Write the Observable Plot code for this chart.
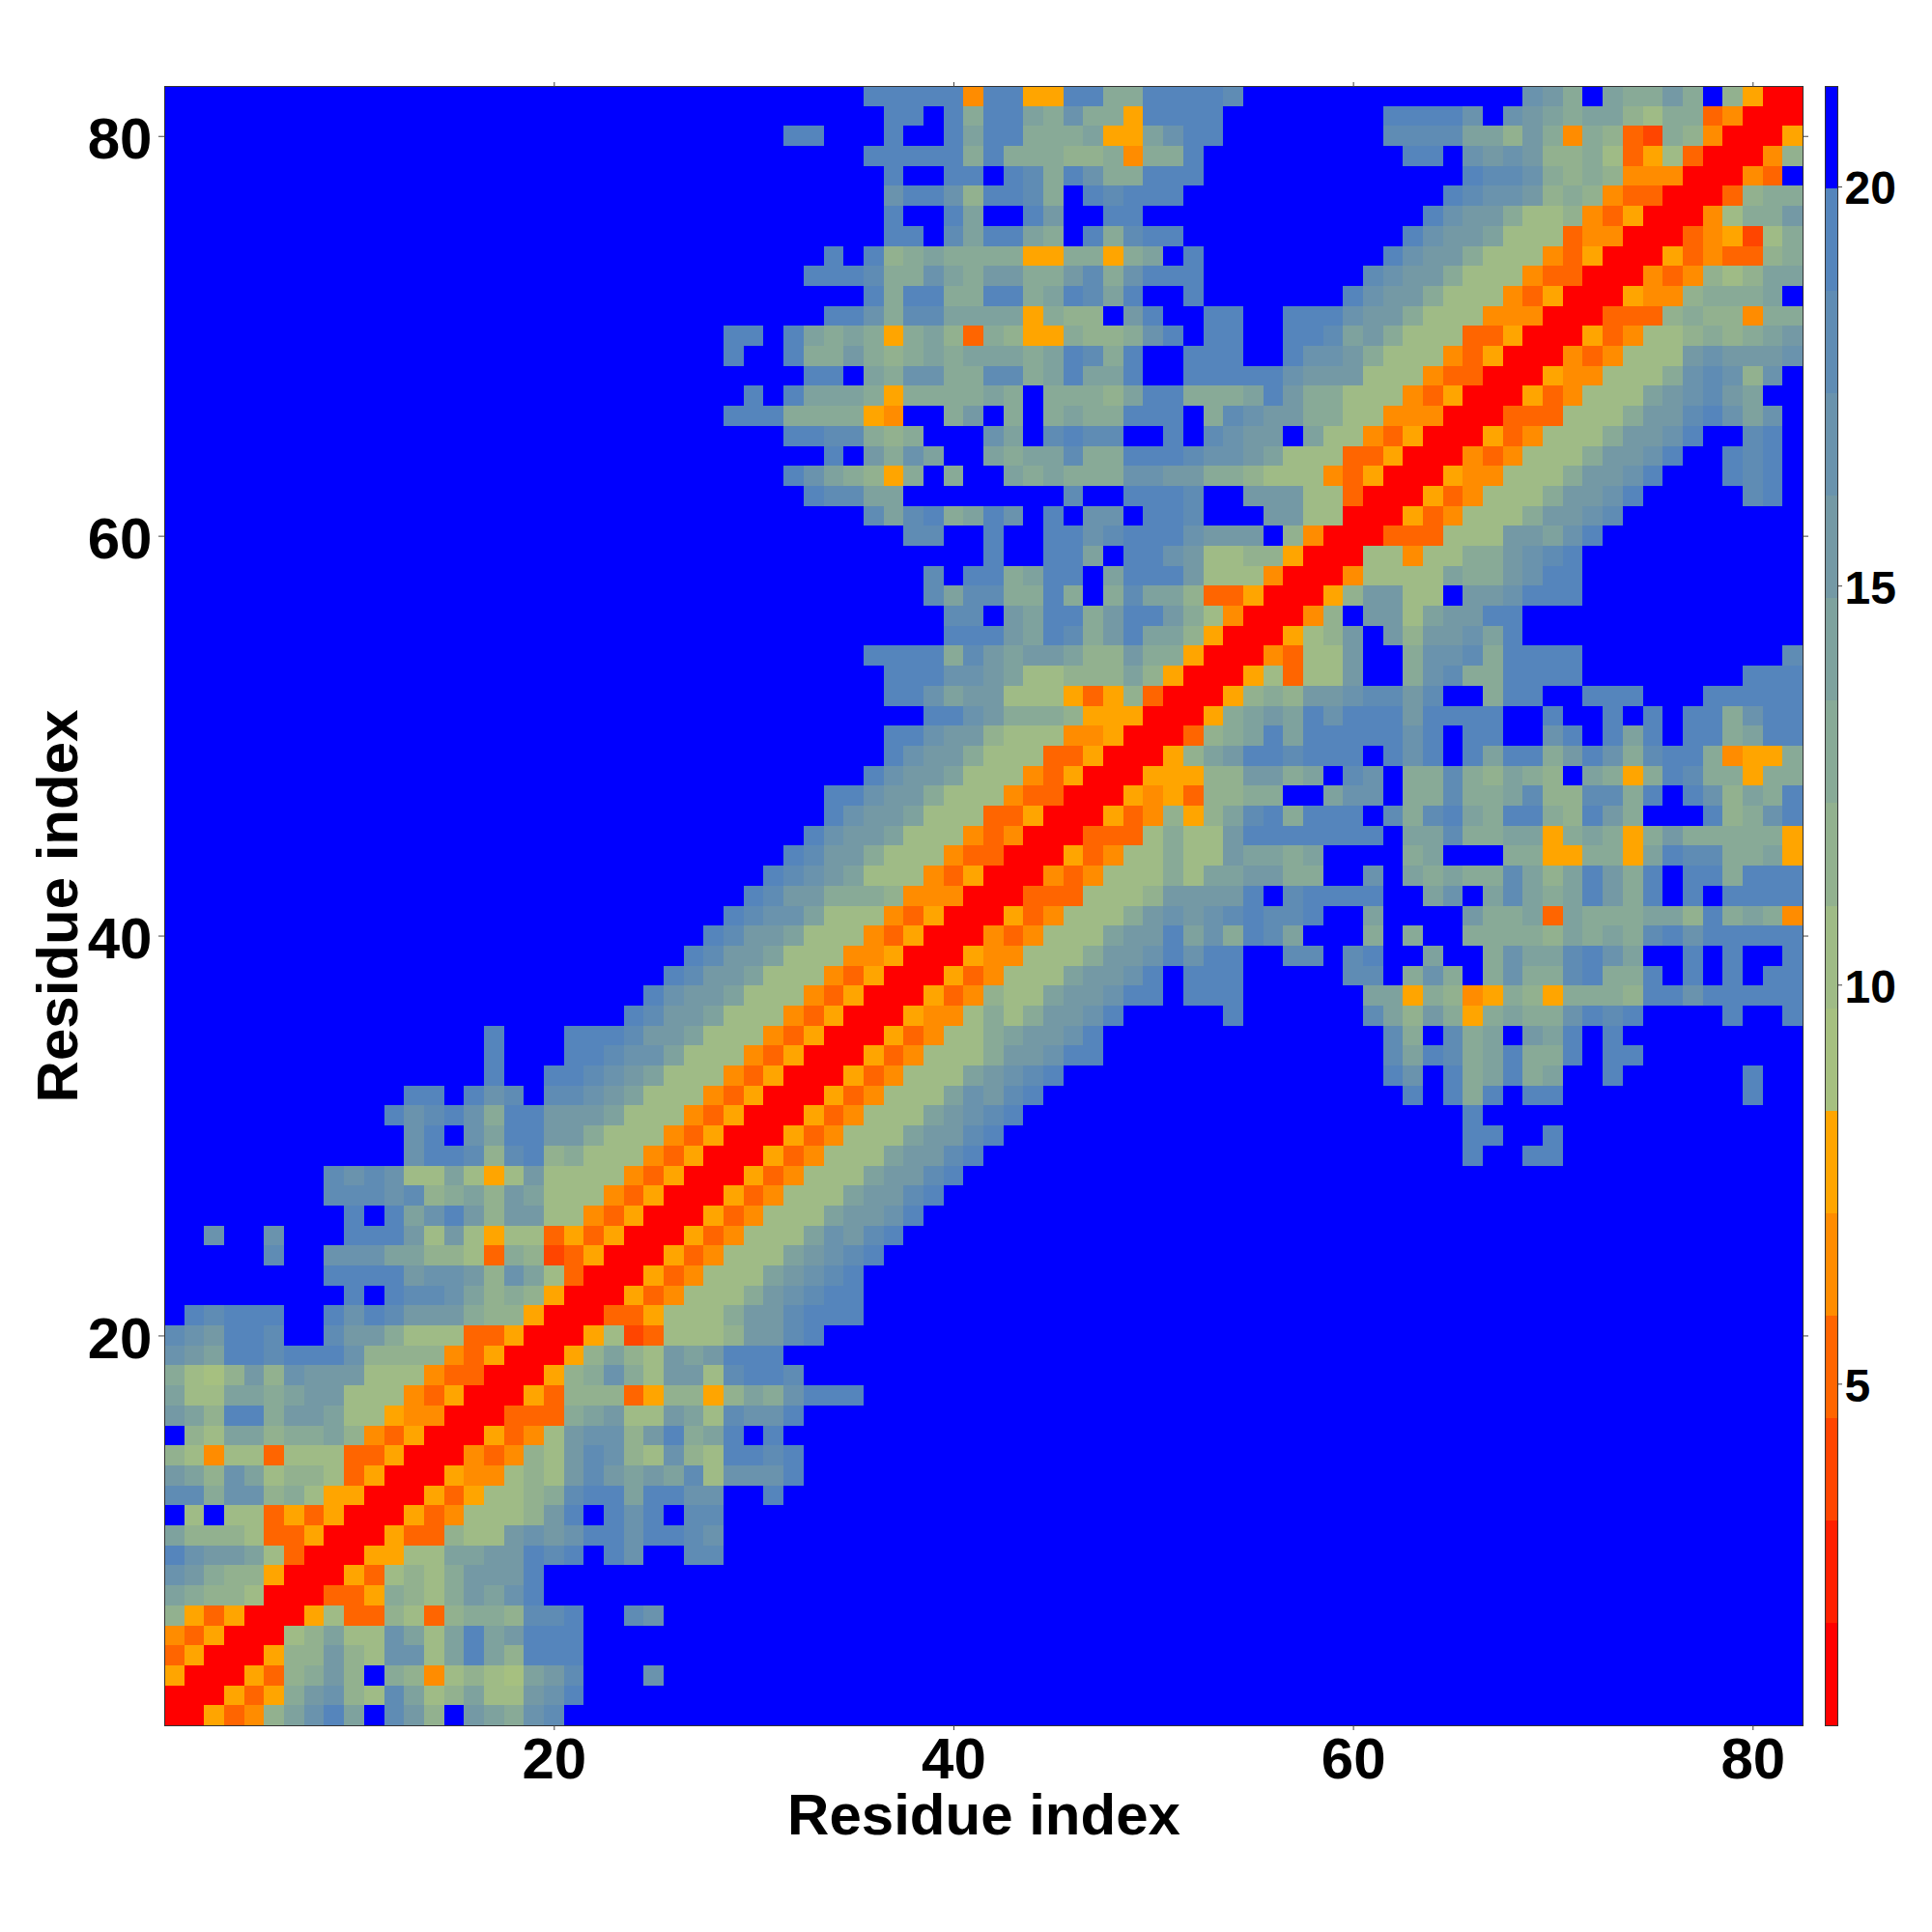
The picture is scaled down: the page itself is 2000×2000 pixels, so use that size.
<!DOCTYPE html>
<html>
<head>
<meta charset="utf-8">
<script src="https://cdn.jsdelivr.net/npm/d3@7"></script>
<script src="https://cdn.jsdelivr.net/npm/@observablehq/plot@0.6"></script>
<style>
html,body{margin:0;padding:0;background:#fff;}
#chart{display:flex;width:2000px;height:2000px;font-family:"Liberation Sans",Arial,sans-serif;}
</style>
</head>
<body>
<div id="chart"></div>
<script>
const residueCount = 82;
const axisTicks = [20, 40, 60, 80];
const barTicks = [5, 10, 15, 20];
const barRange = [0.72, 21.26];
const levelColors = ["#ff0000","#ff2000","#ff4500","#ff6500","#ff8c00","#ffa500","#a6c080","#9fbb86","#92b18f","#88aa97","#7ea29e","#7499a5","#6a93ad","#5f8cb4","#5585bc","#0000ff"];

// Level (hex digit, 0 = red ... f = blue) per residue pair, the map being symmetric.
// Each entry: residue y, first residue x drawn, levels for x = first..y. Blue elsewhere.
const upperRows = [
[82,36,"eeeee4ee55ee99eeeed ffffffffffffff cb9fa99b9f8500"],
[81,37,"eefe9eea9c995eeeef fffffff eeeecfcba9aa87993400"],
[80,32,"eefffeffeaee999a55aceef fffffff ddddaa8b9498329 8400"],
[79,36,"eeeee9e999889499eff ffffffff eefcbcb88973573 00"],
[78,37,"effeefed9ec99eeeff fffffffffff eddc98984 4400"],
[77,37,"ceec8eed9fedeeefff ffffffffff edccb89843300"],
[76,37,"effeaffebffeefffff fffffffff ecbb977 843500"],
[75,37,"eefdaeea9fe9deefff ffffffff ecbba777 34400"],
[74,34,"efe89a999955 995 9afeff fffffff ecbb9777 43500"],
[73,33,"eeed99ca9bb99bd9ceeeff ffffff dcbb9777 43300"],
[72,36,"e9ee99ee9aeda eff eff fffff ecbb9777 43500"],
[71,34,"eec9ddaaaa5988fbeffee ff eee cbb9777 44400"],
[70,29,"eefea9a959a839855988 9cefee ff eedab9777 33500"],
[69,29,"effe99b989a9aaa9aed9effeee ff eccb9777 43500"],
[68,33,"eefa9cc99dd9aeaaeffeee ee cbbb777 43300"],
[67,30,"efeaaa9599 99a9f9998aee999ae b99777 43500"],
[66,29,"eee9999 54ff9bf9f9a99eeef9d cbb9977 44400"],
[65,32,"eedd989fffcafdeddffefdc bbfa77 43500"],
[64,34,"efb9caffa9aad99eeedcc ba777 33500"],
[63,32,"eca985 9f9ffa9a999ccbb99 8777 43500"],
[62,33,"eddaaffffffffdffeeedff bbb77 300"],
[61,36,"dade9aecfefccfeedfff bb77 00"],
[60,38,"ddffeffeecdeeecbb bf8400"],
[59,42,"effeeafeecb77 88500"],
[58,39,"dfee9aeefaeeeb777 400"],
[57,39,"dadd99e9f9daa8 33500"],
[56,40,"ddfbaee9beeb9 7400"],
[55,40,"eeebaed9beaa8500"],
[54,36,"eeee9dbabba88b99500"],
[53,37,"eeeccba77888a8500"],
[52,37,"eecabb777535 8300"],
[51,39,"eecb9998555 00"],
[50,37,"eecbb8777 44500"],
[49,37,"ecbb9777 33500"],
[48,36,"ecbba777 43500"],
[47,34,"eecbb9777 43300"],
[46,34,"ecbba777 33500"],
[45,33,"ecbba777 43400"],
[44,32,"edbb9777 43300"],
[43,31,"edcba777 43500"],
[42,30,"edbb9998 44400"],
[41,29,"edcca777 43500"],
[40,28,"edbba777 43500"],
[39,27,"edbba777 44500"],
[38,26,"edbba777 43500"],
[37,25,"ecbba777 43500"],
[36,24,"edbba777 43500"],
[35,17,"efffeeedbba777 43500"],
[34,17,"efffeedcca777 43500"],
[33,17,"effeedcba777 43500"],
[32,13,"eefecdfddcba777 43500"],
[31,12,"ecdec9eebbba777 43500"],
[30,13,"cefcaeebb9777 43500"],
[29,13,"ceed8de89777 43500"],
[28,9,"dcdc77a757b7777 43500"],
[27,9,"dddcd89a8ba777 43500"],
[26,10,"efeaceb8bb77 43500"],
[25,3,"cffcfffeeeb7b7577 35 3500"],
[24,6,"dffccc aa8873 98 23500"],
[23,9,"eeeebccb8ca7 300"],
[22,10,"efeddca898500"],
[21,1,"fedeeeffecedbbb988500"],
[20,1,"dcbeedffdbb9777 33500"],
[19,1,"cbaeedeeec8888 43500"],
[18,1,"9768b8cbbb777 43300"],
[17,1,"a77aa9abb777 43500"],
[16,1,"ba8ee9bba77544 00"],
[15,1,"f87aa899a84 3500"],
[14,1,"8747737773 3500"],
[13,1,"ba8ca78873500"],
[12,1,"dd9cc897 5500"],
[11,1,"f7f77353500"],
[10,1,"a888733500"],
[9,1,"ecbba7300"],
[8,1,"cb988500"],
[7,1,"a988700"],
[6,1,"853500"],
[5,1,"43500"],
[4,1,"3500"],
[3,1,"500"],
[2,1,"00"],
[1,1,"0"]
];

const step = (barRange[1] - barRange[0]) / levelColors.length;
const breaks = d3.range(1, levelColors.length).map(i => barRange[0] + i * step);
const levelValue = l => barRange[0] + (l + 0.5) * step;
const matrix = d3.range(residueCount + 1).map(() => new Array(residueCount + 1).fill(15));
for (const [y, first, text] of upperRows) {
  [...text.replace(/\s+/g, "")].forEach((ch, i) => {
    const x = first + i, l = parseInt(ch, 16);
    matrix[y][x] = l; matrix[x][y] = l;
  });
}
const cells = [];
for (let y = 1; y <= residueCount; y++) for (let x = 1; x <= residueCount; x++)
  cells.push({x, y, d: levelValue(matrix[y][x])});

const font = '"Liberation Sans", Arial, sans-serif';
const tickStroke = "#444";

const heat = Plot.plot({
  width: 1880, height: 2000,
  marginLeft: 170, marginRight: 14, marginTop: 89, marginBottom: 214,
  style: {fontFamily: font, background: "#fff", color: "#000"},
  x: {domain: [0.5, residueCount + 0.5], label: null},
  y: {domain: [0.5, residueCount + 0.5], label: null},
  color: {type: "threshold", domain: breaks, range: levelColors},
  marks: [
    Plot.rect(cells, {x1: d => d.x - 0.5, x2: d => d.x + 0.5, y1: d => d.y - 0.5, y2: d => d.y + 0.5, fill: "d", shapeRendering: "crispEdges"}),
    Plot.frame({stroke: "#333", strokeWidth: 1}),
    Plot.axisX(axisTicks, {anchor: "bottom", tickSize: 5, tickPadding: 7, tickFormat: "d", fontSize: 60, fontWeight: "bold", label: null, stroke: tickStroke, fill: "#000"}),
    Plot.axisX(axisTicks, {anchor: "top", tickSize: 5, tickFormat: () => "", label: null, stroke: tickStroke}),
    Plot.axisY(axisTicks, {anchor: "left", tickSize: 6, tickFormat: () => "", label: null, stroke: tickStroke}),
    Plot.axisY(axisTicks, {anchor: "left", tickSize: 0, tickPadding: 13, tickFormat: "d", dy: 3.5, fontSize: 60, fontWeight: "bold", label: null, fill: "#000"}),
    Plot.axisY(axisTicks, {anchor: "right", tickSize: 5, tickFormat: () => "", label: null, stroke: tickStroke}),
    Plot.text(["Residue index"], {frameAnchor: "bottom", dy: 93, lineAnchor: "middle", fontSize: 60, fontWeight: "bold", fill: "#000"}),
    Plot.text(["Residue index"], {frameAnchor: "left", dx: -110, rotate: -90, textAnchor: "middle", lineAnchor: "middle", fontSize: 60, fontWeight: "bold", fill: "#000"})
  ]
});

const barCells = levelColors.map((c, i) => ({lo: barRange[0] + i * step, hi: barRange[0] + (i + 1) * step, c}));
const bar = Plot.plot({
  width: 120, height: 2000,
  marginLeft: 9, marginRight: 98, marginTop: 89, marginBottom: 214,
  style: {fontFamily: font, background: "#fff", color: "#000"},
  x: {domain: [0, 1], axis: null},
  y: {domain: barRange, label: null},
  marks: [
    Plot.rect(barCells, {x1: 0, x2: 1, y1: "lo", y2: "hi", fill: "c", shapeRendering: "crispEdges"}),
    Plot.frame({stroke: "#333", strokeWidth: 1}),
    Plot.axisY(barTicks, {anchor: "right", tickSize: 4, tickFormat: () => "", label: null, stroke: tickStroke}),
    Plot.axisY(barTicks, {anchor: "right", tickSize: 0, tickPadding: 7, tickFormat: "d", dy: 2.5, fontSize: 48, fontWeight: "bold", label: null, fill: "#000"})
  ]
});
document.getElementById("chart").append(heat, bar);
</script>
</body>
</html>
